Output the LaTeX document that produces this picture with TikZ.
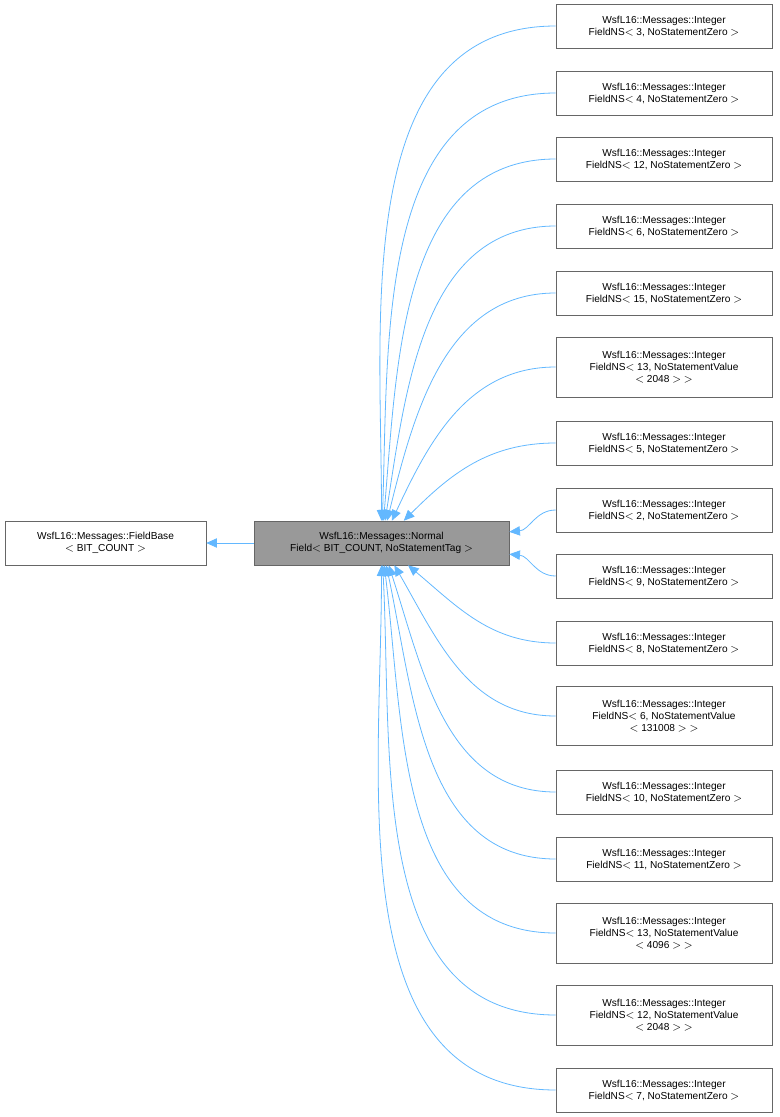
\documentclass[tikz,border=0pt]{standalone}
\usepackage{fontspec}
\setmainfont{Liberation Sans}
\usetikzlibrary{arrows.meta}
\definecolor{edgeblue}{HTML}{63B8FF}
\definecolor{boxgray}{HTML}{999999}
\definecolor{linegray}{HTML}{666666}
\begin{document}
\begin{tikzpicture}[x=0.75pt, y=-0.75pt, >={Triangle[open, fill=edgeblue, length=8pt, width=7pt]},
    cls/.style={draw=linegray, fill=white, align=center, font=\fontsize{7.6}{9}\selectfont, inner sep=0pt, anchor=center},
    inherit/.style={<-, edgeblue, line width=0.6pt}]
    \useasboundingbox (0,0) rectangle (779,1117);

    \node [cls, minimum width=201pt*0.75, minimum height=44*0.75pt] (base) at (105.5,543) {WsfL16::Messages::FieldBase\\$<$ BIT\_COUNT $>$};
    \node [cls, fill=boxgray, minimum width=255*0.75pt, minimum height=44*0.75pt] (normal) at (381.5,543) {WsfL16::Messages::Normal\\Field$<$ BIT\_COUNT, NoStatementTag $>$};

    % derived classes: name/y/in-angle/text
    \foreach \n/\y/\h/\a/\t in {
        c3/26/44/90/{FieldNS$<$ 3, NoStatementZero $>$},
        c4/93/44/88/{FieldNS$<$ 4, NoStatementZero $>$},
        c12/159/44/85/{FieldNS$<$ 12, NoStatementZero $>$},
        c6/226/44/81/{FieldNS$<$ 6, NoStatementZero $>$},
        c15/293/44/76/{FieldNS$<$ 15, NoStatementZero $>$},
        c13a/367/60/65/{FieldNS$<$ 13, NoStatementValue\\$<$ 2048 $>$ $>$},
        c5/443/44/45/{FieldNS$<$ 5, NoStatementZero $>$},
        c2/510/44/5/{FieldNS$<$ 2, NoStatementZero $>$},
        c9/576/44/-5/{FieldNS$<$ 9, NoStatementZero $>$},
        c8/643/44/-40/{FieldNS$<$ 8, NoStatementZero $>$},
        c6b/716/59/-60/{FieldNS$<$ 6, NoStatementValue\\$<$ 131008 $>$ $>$},
        c10/792/44/-72/{FieldNS$<$ 10, NoStatementZero $>$},
        c11/859/44/-78/{FieldNS$<$ 11, NoStatementZero $>$},
        c13b/933/60/-83/{FieldNS$<$ 13, NoStatementValue\\$<$ 4096 $>$ $>$},
        c12b/1015/60/-87/{FieldNS$<$ 12, NoStatementValue\\$<$ 2048 $>$ $>$},
        c7/1090/44/-90/{FieldNS$<$ 7, NoStatementZero $>$}} {
        \node [cls, minimum width=216*0.75pt, minimum height=\h*0.75pt] (\n) at (664,\y) {WsfL16::Messages::Integer\\\t};
        \draw [inherit] (normal) to [out=\a, in=180] (\n.west);
    }

    \draw [inherit] (base) -- (normal);
\end{tikzpicture}
\end{document}
